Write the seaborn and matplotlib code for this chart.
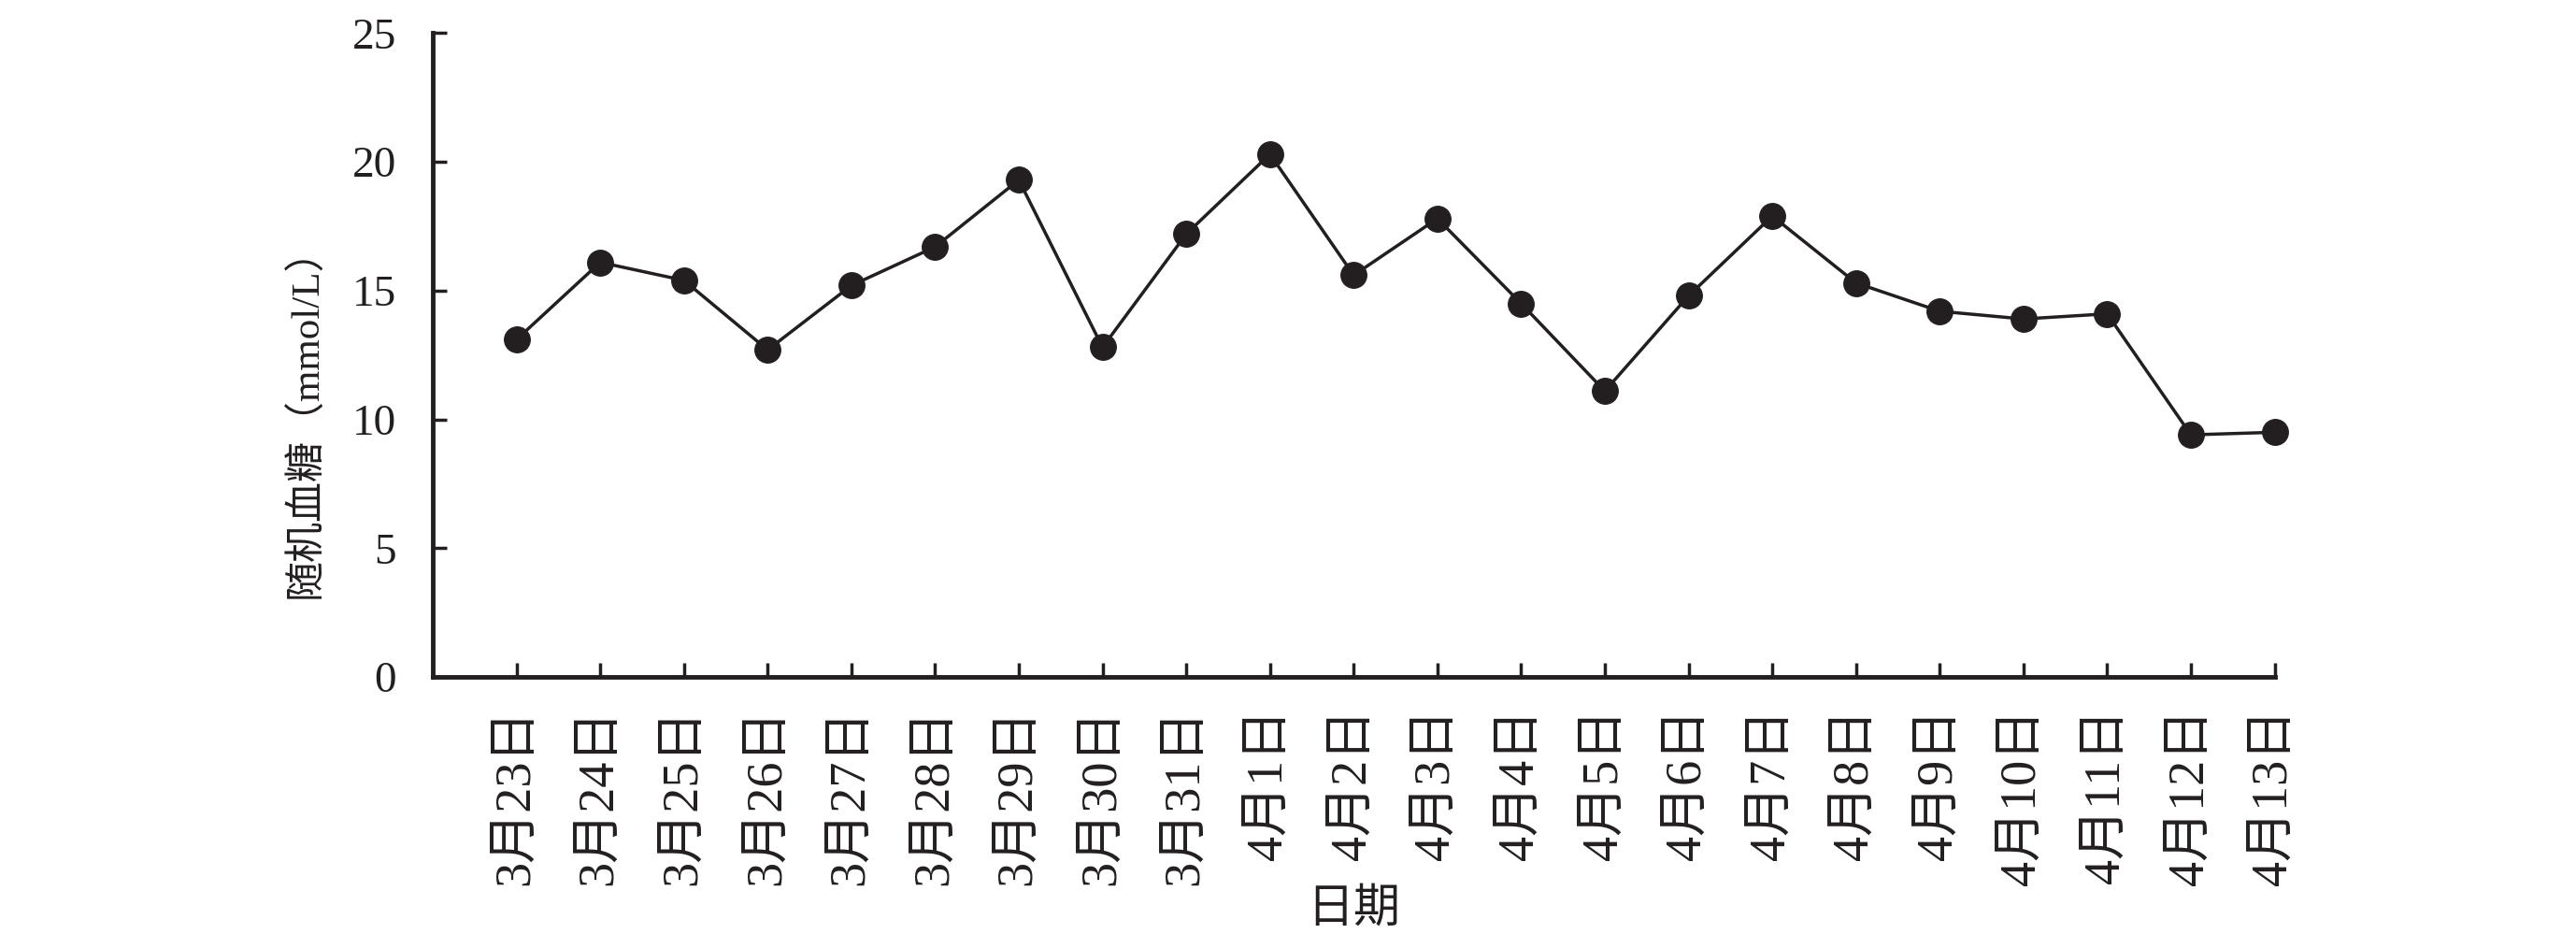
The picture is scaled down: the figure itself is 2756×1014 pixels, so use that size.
import pandas as pd
import matplotlib.pyplot as plt
import seaborn as sns

# --- data ---
dates = ["3月23日", "3月24日", "3月25日", "3月26日", "3月27日", "3月28日", "3月29日",
         "3月30日", "3月31日", "4月1日", "4月2日", "4月3日", "4月4日", "4月5日",
         "4月6日", "4月7日", "4月8日", "4月9日", "4月10日", "4月11日", "4月12日", "4月13日"]
glucose = [13.1, 16.1, 15.4, 12.7, 15.2, 16.7, 19.3, 12.8, 17.2, 20.3, 15.6,
           17.8, 14.5, 11.1, 14.8, 17.9, 15.3, 14.2, 13.9, 14.1, 9.4, 9.5]
y_ticks = [0, 5, 10, 15, 20, 25]

df = pd.DataFrame({"date": dates, "glucose": glucose})

sns.set_style("white")
plt.rcParams['font.family'] = ['Liberation Serif', 'Noto Sans CJK SC']
ink = "#231f20"

fig = plt.figure(figsize=(27.56, 10.14), dpi=100)
ax = fig.add_axes([0.168, 0.286, 0.715, 0.679])

sns.lineplot(data=df, x="date", y="glucose", sort=False, ax=ax, color=ink,
             linewidth=2.5, marker="o", markersize=20, markeredgecolor=ink,
             markerfacecolor=ink, clip_on=False)

ax.set_xlim(-1, len(dates) - 1)
ax.set_ylim(0, 25)
ax.set_yticks(y_ticks)
ax.set_xticks(range(len(dates)))
ax.set_xticklabels(dates, rotation=90)

for side in ["top", "right"]:
    ax.spines[side].set_visible(False)
for side in ["left", "bottom"]:
    ax.spines[side].set_linewidth(3.5)
    ax.spines[side].set_color(ink)

# seaborn "white" turns the ticks off, put them back (pointing inward)
ax.tick_params(axis="both", bottom=True, left=True, direction="in", length=11,
               width=2.5, color=ink, labelcolor=ink, labelsize=34)
ax.tick_params(axis="y", pad=28)
ax.tick_params(axis="x", pad=24, labelsize=39)

ax.set_xlabel("日期", fontsize=36, color=ink, labelpad=2)
ax.set_ylabel("随机血糖（mmol/L）", fontsize=31, color=ink)
ax.yaxis.set_label_coords(-0.058, 0.41)

fig.savefig("out.png", dpi=100, facecolor="white")
